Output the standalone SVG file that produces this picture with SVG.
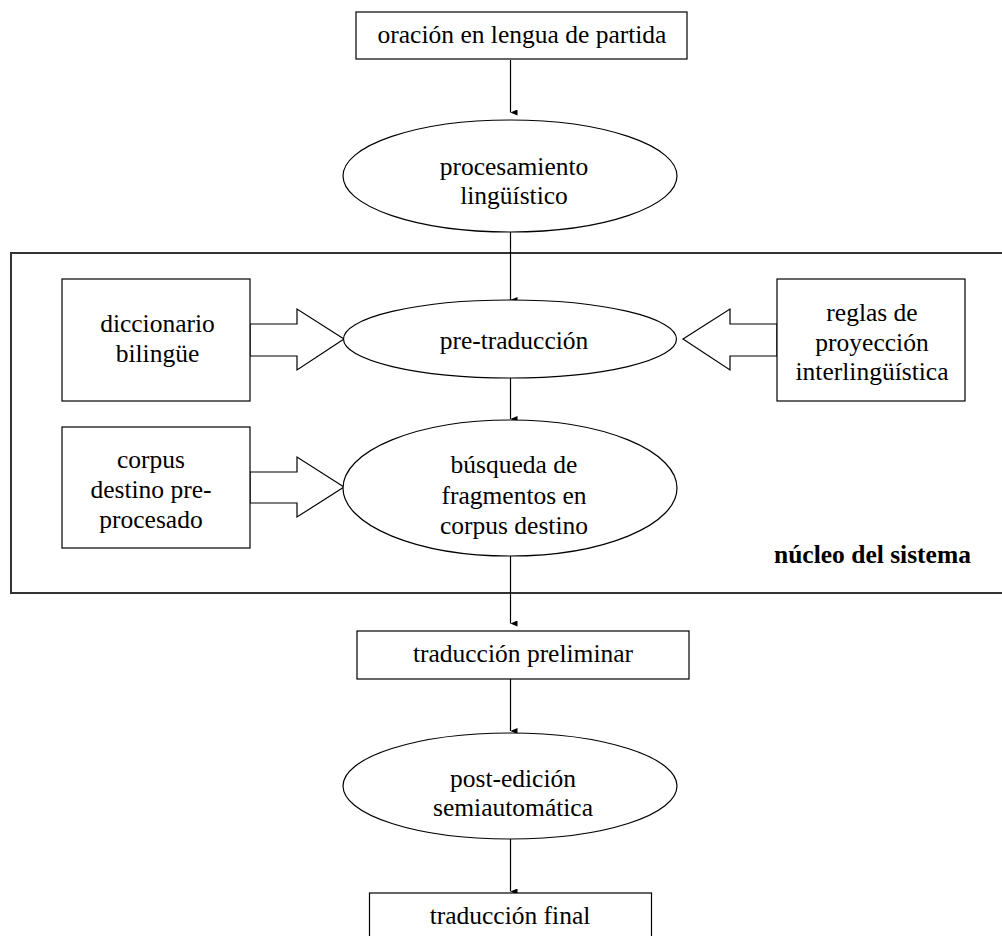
<svg xmlns="http://www.w3.org/2000/svg" width="1002" height="936" viewBox="0 0 1002 936">
<defs>
<style>
.t{font-family:"Liberation Serif","Times New Roman",serif;font-size:25.5px;fill:#000;text-anchor:middle}
.b{font-weight:bold;text-anchor:start}
.s{fill:#fff;stroke:#000;stroke-width:1.2}
.c{stroke:#000;stroke-width:1.2;fill:none}
.frame{fill:none;stroke:#333;stroke-width:2}
</style>
<marker id="ah" viewBox="0 0 6 7" markerWidth="6" markerHeight="7" refX="3" refY="7" orient="auto-start-reverse" markerUnits="userSpaceOnUse">
<path d="M0,0 L6,0 L3,7 z" fill="#000"/>
</marker>
</defs>
<rect width="1002" height="936" fill="#fff"/>
<g id="nucleo">
<rect class="frame" x="11" y="253" width="1000" height="340"/>
<text class="t b" x="774" y="563">núcleo del sistema</text>
</g>
<g id="connectors">
<line class="c" x1="510.5" y1="60" x2="510.5" y2="112.5" marker-end="url(#ah)"/>
<line class="c" x1="510.5" y1="232" x2="510.5" y2="300" marker-end="url(#ah)"/>
<line class="c" x1="510.5" y1="378" x2="510.5" y2="419" marker-end="url(#ah)"/>
<line class="c" x1="510.5" y1="556" x2="510.5" y2="623.5" marker-end="url(#ah)"/>
<line class="c" x1="510.5" y1="679" x2="510.5" y2="731" marker-end="url(#ah)"/>
<line class="c" x1="510.5" y1="839" x2="510.5" y2="891.5" marker-end="url(#ah)"/>
<polygon class="s" points="250,324 297,324 297,309 344,339 297,370 297,356 250,356"/>
<polygon class="s" points="777,324 730,324 730,309 683,339 730,370 730,356 777,356"/>
<polygon class="s" points="250,472 297,472 297,457 344,487 297,517 297,503 250,503"/>
</g>
<g id="oracion">
<rect class="s" x="356" y="12" width="331" height="47"/>
<text class="t" x="522" y="43">oración en lengua de partida</text>
</g>
<g id="procesamiento">
<ellipse class="s" cx="510" cy="176" rx="167" ry="56"/>
<text class="t" x="514" y="175">procesamiento</text>
<text class="t" x="514" y="204">lingüístico</text>
</g>
<g id="diccionario">
<rect class="s" x="62" y="279" width="188" height="122"/>
<text class="t" x="157.5" y="332">diccionario</text>
<text class="t" x="157.5" y="362">bilingüe</text>
</g>
<g id="pretraduccion">
<ellipse class="s" cx="510" cy="339" rx="166.5" ry="39"/>
<text class="t" x="514" y="349">pre-traducción</text>
</g>
<g id="reglas">
<rect class="s" x="777" y="279" width="188" height="122"/>
<text class="t" x="872" y="321">reglas de</text>
<text class="t" x="872" y="351">proyección</text>
<text class="t" x="872" y="380">interlingüística</text>
</g>
<g id="corpus">
<rect class="s" x="62" y="427" width="188" height="121"/>
<text class="t" x="151" y="468">corpus</text>
<text class="t" x="151" y="498">destino pre-</text>
<text class="t" x="151" y="528">procesado</text>
</g>
<g id="busqueda">
<ellipse class="s" cx="510" cy="488" rx="167" ry="68"/>
<text class="t" x="514" y="473">búsqueda de</text>
<text class="t" x="514" y="504">fragmentos en</text>
<text class="t" x="514" y="534">corpus destino</text>
</g>
<g id="preliminar">
<rect class="s" x="357" y="631" width="332" height="48"/>
<text class="t" x="523" y="662">traducción preliminar</text>
</g>
<g id="postedicion">
<ellipse class="s" cx="510" cy="786" rx="167" ry="53"/>
<text class="t" x="513" y="787">post-edición</text>
<text class="t" x="513" y="816">semiautomática</text>
</g>
<g id="final">
<rect class="s" x="369.5" y="893" width="282" height="48"/>
<text class="t" x="510" y="924">traducción final</text>
</g>
</svg>
